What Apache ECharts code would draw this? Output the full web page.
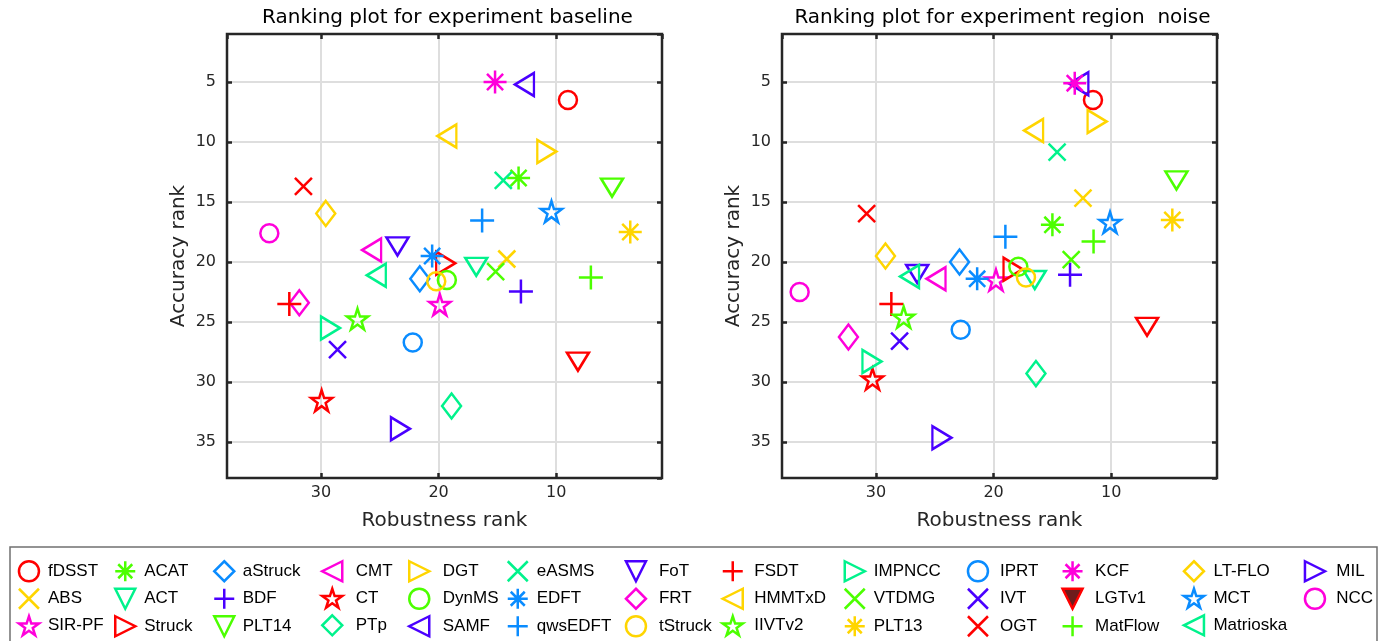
<!DOCTYPE html>
<html><head><meta charset="utf-8">
<script src="https://cdn.jsdelivr.net/npm/echarts@6/dist/echarts.min.js"></script>
<style>html,body{margin:0;padding:0;background:#fff}#c{width:1384px;height:641px}</style>
</head><body><div id="c"></div>
<script>
// ---------------- data ----------------
const trackers = ['fDSST','ABS','SIR-PF','ACAT','ACT','Struck','aStruck','BDF','PLT14','CMT','CT','PTp','DGT','DynMS','SAMF','eASMS','EDFT','qwsEDFT','FoT','FRT','tStruck','FSDT','HMMTxD','IIVTv2','IMPNCC','VTDMG','PLT13','IPRT','IVT','OGT','KCF','LGTv1','MatFlow','LT-FLO','MCT','Matrioska','MIL','NCC'];

const baselineRobustness = [9.0,14.2,19.9,13.2,16.8,19.4,21.6,13.0,5.25,25.7,29.95,18.9,10.8,19.3,12.7,14.5,20.55,16.3,23.5,31.85,20.2,32.7,19.3,26.9,29.2,15.15,3.7,22.2,28.6,31.5,15.2,8.15,7.05,29.6,10.4,25.3,23.25,34.4];
const baselineAccuracy   = [6.5,19.75,23.55,13.0,20.4,20.1,21.4,22.45,13.8,19.0,31.55,32.0,10.8,21.5,5.2,13.2,19.5,16.55,18.7,23.4,21.6,23.5,9.5,24.75,25.5,20.8,17.5,26.7,27.3,13.7,5.0,28.3,21.3,15.95,15.8,21.1,33.9,17.6];

const noiseRobustness = [11.55,12.4,19.8,15.0,16.5,18.35,22.9,13.5,4.45,24.9,30.3,16.4,11.2,17.9,12.75,14.6,21.4,19.0,26.5,32.35,17.25,28.7,16.6,27.65,30.35,13.4,4.8,22.8,28.0,30.8,13.1,6.95,11.5,29.2,10.1,27.15,24.4,36.5];
const noiseAccuracy   = [6.5,14.67,21.5,16.9,21.5,20.6,20.0,21.06,13.2,21.4,29.75,29.3,8.3,20.4,5.15,10.85,21.4,17.9,21.0,26.25,21.3,23.5,9.05,24.6,28.3,19.8,16.5,25.65,26.6,15.97,5.1,25.4,18.3,19.5,16.7,21.2,34.65,22.5];

const plotTitles = ['Ranking plot for experiment baseline', 'Ranking plot for experiment region  noise'];
const xAxisName = 'Robustness rank';
const yAxisName = 'Accuracy rank';
const rankRange = [1, 38];

// ---------------- styles ----------------
const RED='#ff0000', GOLD='#ffd500', MAG='#ff00db', GRN='#4cff00', SPR='#00f28c', BLU='#0a8cff', PUR='#4a00ff';
const trackerColors = [RED,GOLD,MAG,GRN,SPR,RED,BLU,PUR,GRN,MAG,RED,SPR,GOLD,GRN,PUR,SPR,BLU,BLU,PUR,MAG,GOLD,RED,GOLD,GRN,SPR,GRN,GOLD,BLU,PUR,RED,MAG,RED,GRN,GOLD,BLU,SPR,PUR,MAG];
const trackerMarkers = ['circle','x','star','asterisk','down','right','diamond','plus','down','left','star','diamond','right','circle','left','x','asterisk','plus','down','diamond','circle','plus','left','star','right','x','asterisk','circle','x','x','asterisk','down','plus','diamond','star','left','right','circle'];

const MARKERS = {
  circle:   {symbol:'circle', size:18},
  x:        {symbol:'path://M-1,-1L1,1M-1,1L1,-1', size:17},
  plus:     {symbol:'path://M-1,0L1,0M0,-1L0,1', size:24},
  asterisk: {symbol:'path://M-1,0L1,0M0,-1L0,1M-0.7,-0.7L0.7,0.7M-0.7,0.7L0.7,-0.7', size:23},
  star:     {symbol:'path://M0,-1L0.2245,-0.309L0.951,-0.309L0.363,0.118L0.588,0.809L0,0.382L-0.588,0.809L-0.363,0.118L-0.951,-0.309L-0.2245,-0.309Z', size:21},
  diamond:  {symbol:'path://M0,-1L1,0L0,1L-1,0Z', size:[19,25]},
  down:     {symbol:'path://M-1,-1L1,-1L0,1Z', size:[22,18]},
  left:     {symbol:'path://M1,-1L-1,0L1,1Z', size:[19,23]},
  right:    {symbol:'path://M-1,-1L1,0L-1,1Z', size:[19,23]}
};

const grids = [
  {left:227, top:34, width:435, height:444},
  {left:782, top:34, width:435, height:444}
];
const AX = '#262626';
const FONT = 'DejaVu Sans';

// ---------------- build ----------------
const xAxes = [], yAxes = [], titles = [], series = [], graphics = [];
grids.forEach((g, gi) => {
  titles.push({
    text: plotTitles[gi], left: g.left + g.width / 2 + 3, top: 8, textAlign: 'center', padding: 0,
    textStyle: {fontFamily: FONT, fontSize: 20, fontWeight: 'normal', color: '#000'}
  });
  graphics.push({
    type: 'rect', z: 100, silent: true,
    shape: {x: g.left, y: g.top, width: g.width, height: g.height},
    style: {fill: 'none', stroke: AX, lineWidth: 2.5}
  });
});
// primary axes
grids.forEach((g, gi) => {
  xAxes.push({
    type: 'value', gridIndex: gi, position: 'bottom', min: rankRange[0], max: rankRange[1], inverse: true, splitNumber: 4,
    name: xAxisName, nameLocation: 'middle', nameGap: 33,
    nameTextStyle: {fontFamily: FONT, fontSize: 20, color: AX},
    axisLine: {show: false, onZero: false},
    axisTick: {show: true, inside: true, length: 5, lineStyle: {color: AX, width: 2.5}},
    axisLabel: {show: true, margin: 7, fontFamily: FONT, fontSize: 16, color: AX, showMinLabel: false, showMaxLabel: false},
    splitLine: {show: true, lineStyle: {color: '#dedede', width: 2}}
  });
  yAxes.push({
    type: 'value', gridIndex: gi, position: 'left', min: rankRange[0], max: rankRange[1], inverse: true, splitNumber: 7,
    name: yAxisName, nameLocation: 'middle', nameGap: 38, nameRotate: 90,
    nameTextStyle: {fontFamily: FONT, fontSize: 20, color: AX},
    axisLine: {show: false, onZero: false},
    axisTick: {show: true, inside: true, length: 5, lineStyle: {color: AX, width: 2.5}},
    axisLabel: {show: true, margin: 11, fontFamily: FONT, fontSize: 16, color: AX, showMinLabel: false, showMaxLabel: false},
    splitLine: {show: true, lineStyle: {color: '#dedede', width: 2}}
  });
});
// secondary (tick-only) axes on top / right
grids.forEach((g, gi) => {
  xAxes.push({
    type: 'value', gridIndex: gi, position: 'top', min: rankRange[0], max: rankRange[1], inverse: true, splitNumber: 4,
    axisLine: {show: false, onZero: false},
    axisTick: {show: true, inside: true, length: 5, lineStyle: {color: AX, width: 2.5}},
    axisLabel: {show: false}, splitLine: {show: false}
  });
  yAxes.push({
    type: 'value', gridIndex: gi, position: 'right', min: rankRange[0], max: rankRange[1], inverse: true, splitNumber: 7,
    axisLine: {show: false, onZero: false},
    axisTick: {show: true, inside: true, length: 5, lineStyle: {color: AX, width: 2.5}},
    axisLabel: {show: false}, splitLine: {show: false}
  });
});

const experiments = [
  {rob: baselineRobustness, acc: baselineAccuracy},
  {rob: noiseRobustness, acc: noiseAccuracy}
];
experiments.forEach((ex, gi) => {
  trackers.forEach((name, i) => {
    const m = MARKERS[trackerMarkers[i]];
    series.push({
      type: 'scatter', name: name, xAxisIndex: gi, yAxisIndex: gi,
      data: [[ex.rob[i], ex.acc[i]]],
      symbol: m.symbol, symbolSize: m.size,
      itemStyle: {color: 'rgba(255,255,255,0)', borderColor: trackerColors[i], borderWidth: 2.5, borderJoin: 'miter', borderMiterLimit: 10, opacity: 1},
      emphasis: {disabled: true},
      silent: true
    });
  });
});

// legend: 13 columns x 3 rows, column-major
const legendColCenters = [27.7,124,223,331,418,516.5,634.7,731.5,853.5,976.7,1071.3,1192.7,1313.7];
const legendTextOffsets = [19,19,18.5,23.5,23.5,19,23,21.5,19,22,22.5,19.5,21.3];
const LEG_ICON = 20;
const legends = [];
legendColCenters.forEach((c, ci) => {
  const names = trackers.slice(ci * 3, ci * 3 + 3).map(n => n === 'LGTv1' ? {name: n, itemStyle: {color: '#6e1c1c'}} : n);
  const extra = Math.max(0, legendTextOffsets[ci] - (LEG_ICON / 2 + 5));
  legends.push({
    data: names, orient: 'vertical', left: c - LEG_ICON / 2, top: 560, padding: 0,
    itemWidth: LEG_ICON, itemHeight: LEG_ICON, itemGap: 5, selectedMode: false,
    itemStyle: {borderWidth: 2.5},
    textStyle: {fontFamily: 'Liberation Sans', fontSize: 17, color: '#000', padding: [0, 0, 0, extra]}
  });
});
graphics.push({
  type: 'rect', z: 100, silent: true,
  shape: {x: 10, y: 547, width: 1367, height: 120},
  style: {fill: 'none', stroke: '#707070', lineWidth: 1.5}
});

const chart = echarts.init(document.getElementById('c'), null, {renderer: 'canvas'});
chart.setOption({
  backgroundColor: '#fff',
  animation: false,
  title: titles,
  grid: grids,
  xAxis: xAxes,
  yAxis: yAxes,
  legend: legends,
  series: series,
  graphic: graphics
});
</script></body></html>
